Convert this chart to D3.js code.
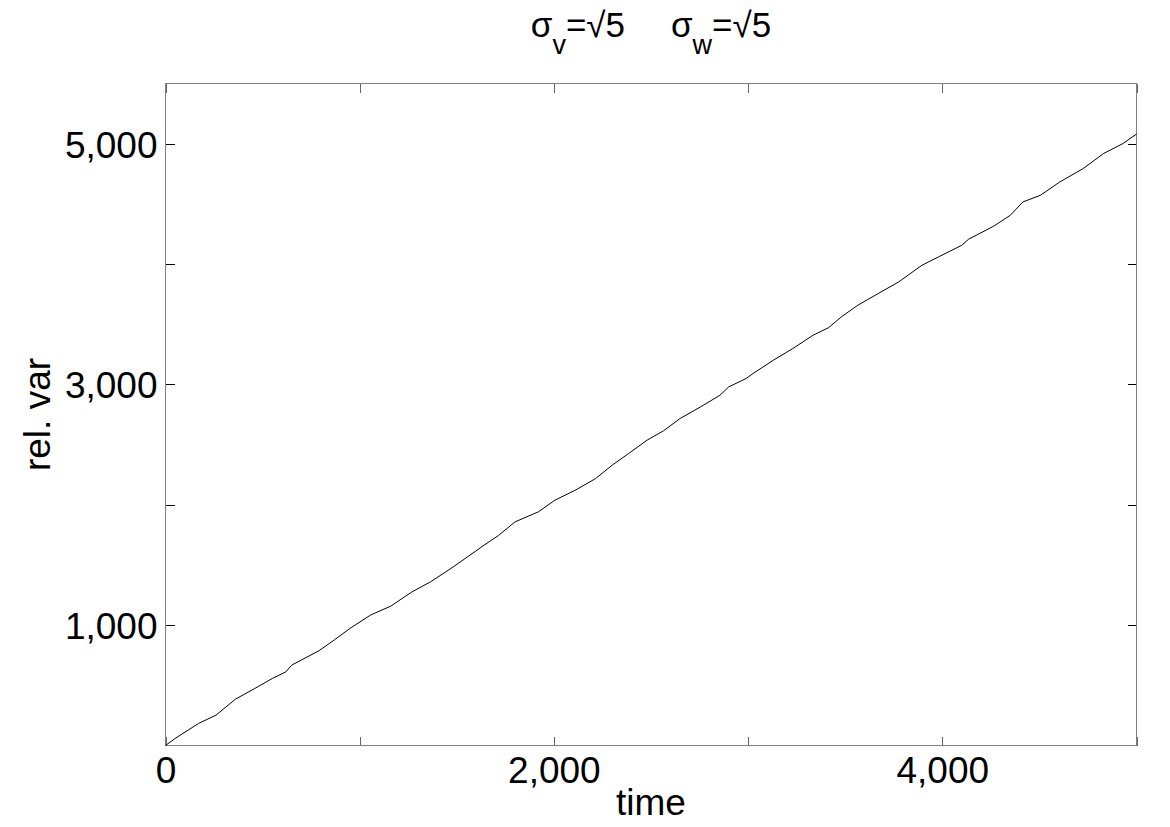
<!DOCTYPE html>
<html>
<head>
<meta charset="utf-8">
<script src="https://cdn.jsdelivr.net/npm/d3@7"></script>
<style>
  html, body { margin: 0; padding: 0; background: #fff; }
  text { font-family: "Liberation Sans", Arial, sans-serif; fill: #000; }
</style>
</head>
<body>
<script>
// time steps and relative variance
var times = [0, 50, 170, 260, 360, 460, 550, 620, 650, 790, 870, 950, 1055, 1160, 1270,
  1365, 1470, 1555, 1640, 1715, 1800, 1920, 2005, 2110, 2215, 2300, 2385, 2480, 2565,
  2650, 2755, 2855, 2900, 2990, 3025, 3130, 3230, 3335, 3415, 3480, 3565, 3670, 3775,
  3895, 3980, 4100, 4135, 4265, 4350, 4415, 4505, 4605, 4725, 4830, 4930, 5000];
var relVar = [0, 59, 183, 252, 385, 474, 557, 612, 668, 787, 878, 973, 1083, 1158, 1277,
  1360, 1471, 1567, 1664, 1745, 1858, 1941, 2038, 2121, 2218, 2329, 2426, 2537, 2615,
  2717, 2813, 2910, 2979, 3049, 3090, 3201, 3298, 3409, 3472, 3561, 3658, 3755, 3851,
  3990, 4059, 4156, 4206, 4315, 4405, 4516, 4571, 4682, 4793, 4918, 5001, 5080];

var xTicks = [0, 1000, 2000, 3000, 4000, 5000],
    xLabels = [0, 2000, 4000];
var yTicks = [1000, 2000, 3000, 4000, 5000],
    yLabels = [1000, 3000, 5000];

(function() {
    var width = 1170,
        height = 827;

    var pLeft = 165.5, pRight = 1136.5, pTop = 83.5, pBottom = 745.5;
    var tickLen = 9;
    var fmt = d3.format(',');

    var svg = d3.select('body').append('svg')
        .attr('width', width)
        .attr('height', height);

    var x = d3.scaleLinear().domain([0, 5000]).range([pLeft, pRight]);
    var y = d3.scaleLinear().domain([0, 5500]).range([pBottom, pTop]);

    // bottom axis, labels only every other tick
    var gx = svg.append('g')
        .attr('transform', 'translate(0,' + pBottom + ')')
        .call(d3.axisBottom(x).tickValues(xTicks).tickSizeInner(-tickLen).tickSizeOuter(0)
            .tickFormat(function(d) { return xLabels.indexOf(d) >= 0 ? fmt(d) : ''; }));
    gx.select('.domain').remove();
    gx.selectAll('line').attr('stroke', '#666').attr('shape-rendering', 'crispEdges');
    gx.selectAll('text').attr('font-size', 37).attr('dy', '0.71em').attr('y', 11)
        .attr('font-family', '"Liberation Sans", Arial, sans-serif').attr('fill', '#000');

    var gxt = svg.append('g')
        .attr('transform', 'translate(0,' + pTop + ')')
        .call(d3.axisTop(x).tickValues(xTicks).tickSizeInner(-tickLen).tickSizeOuter(0).tickFormat(''));
    gxt.select('.domain').remove();
    gxt.selectAll('line').attr('stroke', '#666').attr('shape-rendering', 'crispEdges');

    var gy = svg.append('g')
        .attr('transform', 'translate(' + pLeft + ',0)')
        .call(d3.axisLeft(y).tickValues(yTicks).tickSizeInner(-tickLen).tickSizeOuter(0)
            .tickFormat(function(d) { return yLabels.indexOf(d) >= 0 ? fmt(d) : ''; }));
    gy.select('.domain').remove();
    gy.selectAll('line').attr('stroke', '#000').attr('shape-rendering', 'crispEdges');
    gy.selectAll('text').attr('font-size', 37).attr('dy', '0.36em').attr('x', -8)
        .attr('font-family', '"Liberation Sans", Arial, sans-serif').attr('fill', '#000');

    var gyr = svg.append('g')
        .attr('transform', 'translate(' + pRight + ',0)')
        .call(d3.axisRight(y).tickValues(yTicks).tickSizeInner(-tickLen).tickSizeOuter(0).tickFormat(''));
    gyr.select('.domain').remove();
    gyr.selectAll('line').attr('stroke', '#000').attr('shape-rendering', 'crispEdges');

    // frame
    svg.append('rect')
        .attr('x', pLeft)
        .attr('y', pTop)
        .attr('width', pRight - pLeft)
        .attr('height', pBottom - pTop)
        .attr('fill', 'none')
        .attr('stroke', '#808080')
        .attr('stroke-width', 1)
        .attr('shape-rendering', 'crispEdges');

    var line = d3.line()
        .x(function(d, i) { return x(times[i]); })
        .y(function(d) { return y(d); });

    svg.append('path')
        .datum(relVar)
        .attr('d', line)
        .attr('fill', 'none')
        .attr('stroke', '#000')
        .attr('stroke-width', 1);

    // axis titles
    svg.append('text')
        .attr('x', (pLeft + pRight) / 2)
        .attr('y', 815)
        .attr('text-anchor', 'middle')
        .attr('font-size', 37)
        .text('time');

    svg.append('text')
        .attr('transform', 'translate(50,' + ((pTop + pBottom) / 2) + ') rotate(-90)')
        .attr('text-anchor', 'middle')
        .attr('font-size', 37)
        .text('rel. var');

    // title: sigma_v = sqrt5   sigma_w = sqrt5
    var title = svg.append('text')
        .attr('x', (pLeft + pRight) / 2)
        .attr('y', 37)
        .attr('text-anchor', 'middle')
        .attr('font-size', 35);
    title.append('tspan').text('σ');
    title.append('tspan').attr('font-size', 27).attr('dy', 17).text('v');
    title.append('tspan').attr('dy', -17).text('=√5');
    title.append('tspan').attr('dx', 46).text('σ');
    title.append('tspan').attr('font-size', 27).attr('dy', 17).text('w');
    title.append('tspan').attr('dy', -17).text('=√5');
})();
</script>
</body>
</html>
